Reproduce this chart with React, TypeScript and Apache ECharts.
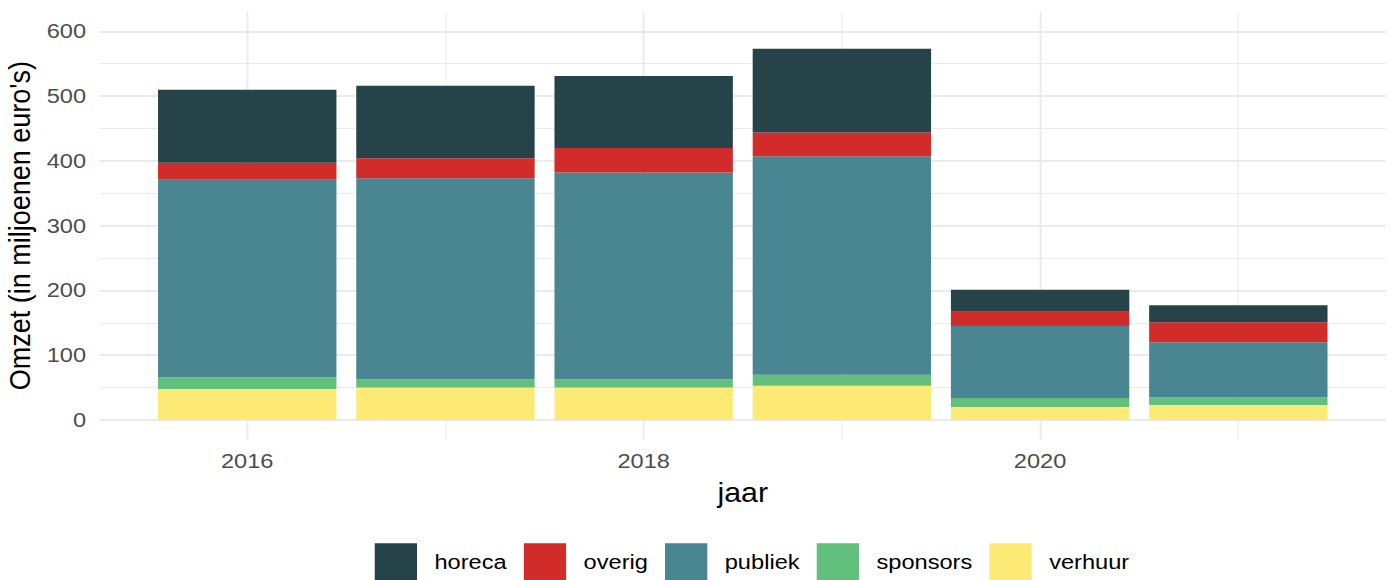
import React, { useEffect, useRef } from "react";
import * as echarts from "echarts";

// ---- data ----
const years = [2016, 2017, 2018, 2019, 2020, 2021];
const verhuur = [48, 50, 50, 53, 20, 23];
const sponsors = [18, 13, 13, 17, 14, 12];
const publiek = [305, 310, 319, 337, 111, 85];
const overig = [26, 31, 38, 37, 22, 31];
const horeca = [113, 112, 111, 129, 34, 26];
const legendOrder = ["horeca", "overig", "publiek", "sponsors", "verhuur"];

// ---- layout / style ----
const SX = 1.125; // the reference is horizontally stretched
const W = 1236;
const H = 580;
const GRID = { left: 88.5, right: 4, top: 11.9, bottom: 140.6 };
const XMIN = 2015.255;
const XMAX = 2021.745;
const YMIN = -30;
const YMAX = 630;
const FONT = "'Liberation Sans', Arial, sans-serif";
const GRIDCOL = "#EBEBEB";
const COLORS: Record<string, string> = {
  horeca: "#27434A",
  overig: "#D12C29",
  publiek: "#4A8592",
  sponsors: "#63BF7E",
  verhuur: "#FCEA74",
};

export default function App() {
  const ref = useRef<HTMLDivElement>(null);
  useEffect(() => {
    document.body.style.margin = "0";
    document.body.style.overflow = "hidden";
    const chart = echarts.init(ref.current!, null, { renderer: "svg" });
    const gridW = W - GRID.left - GRID.right;
    const pxPerYear = gridW / (XMAX - XMIN);
    const barGrid = {
      left: GRID.left + (years[0] - 0.5 - XMIN) * pxPerYear,
      right: GRID.right + (XMAX - (years[years.length - 1] + 0.5)) * pxPerYear,
      top: GRID.top,
      bottom: GRID.bottom,
      containLabel: false,
      outerBoundsMode: "none",
    };
    const stackSeries: [string, number[]][] = [
      ["verhuur", verhuur],
      ["sponsors", sponsors],
      ["publiek", publiek],
      ["overig", overig],
      ["horeca", horeca],
    ];
    const series = stackSeries.map(([name, vals]) => ({
      name,
      type: "bar",
      stack: "total",
      xAxisIndex: 1,
      yAxisIndex: 1,
      barWidth: "90%",
      itemStyle: { color: COLORS[name] },
      data: vals,
    }));
    chart.setOption({
      animation: false,
      grid: [
        { ...GRID, containLabel: false, outerBoundsMode: "none" },
        barGrid,
      ],
      legend: {
        data: legendOrder,
        left: 333.1,
        top: 543.3,
        padding: 0,
        orient: "horizontal",
        icon: "rect",
        itemWidth: 37.6,
        itemHeight: 37.8,
        itemGap: 15.2,
        selectedMode: false,
        textStyle: {
          fontFamily: FONT,
          fontSize: 21,
          color: "#000",
          padding: [4, 0, 0, 10.5],
        },
      },
      xAxis: [
        {
          type: "value",
          gridIndex: 0,
          min: XMIN,
          max: XMAX,
          splitNumber: 3,
          axisLine: { show: false },
          axisTick: { show: false },
          axisLabel: {
            showMinLabel: false,
            showMaxLabel: false,
            formatter: (v: number) => String(v),
            fontFamily: FONT,
            fontSize: 21,
            color: "#4D4D4D",
            margin: 11,
          },
          splitLine: {
            show: true,
            showMinLine: false,
            showMaxLine: false,
            lineStyle: { color: GRIDCOL, width: 1.8 },
          },
          minorTick: { show: false, splitNumber: 2 },
          minorSplitLine: { show: true, lineStyle: { color: GRIDCOL, width: 0.9 } },
          name: "jaar",
          nameLocation: "middle",
          nameGap: 40,
          nameTextStyle: { fontFamily: FONT, fontSize: 27, color: "#000" },
        },
        {
          type: "category",
          gridIndex: 1,
          data: years.map(String),
          show: false,
        },
      ],
      yAxis: [
        {
          type: "value",
          gridIndex: 0,
          min: YMIN,
          max: YMAX,
          splitNumber: 6,
          axisLine: { show: false },
          axisTick: { show: false },
          axisLabel: {
            showMinLabel: false,
            showMaxLabel: false,
            formatter: (v: number) => String(v),
            fontFamily: FONT,
            fontSize: 21,
            color: "#4D4D4D",
            margin: 12,
          },
          splitLine: {
            show: true,
            showMinLine: false,
            showMaxLine: false,
            lineStyle: { color: GRIDCOL, width: 2 },
          },
          minorTick: { show: false, splitNumber: 2 },
          minorSplitLine: { show: true, lineStyle: { color: GRIDCOL, width: 1.1 } },
          name: "Omzet (in miljoenen euro's)",
          nameLocation: "middle",
          nameRotate: 90,
          nameGap: 53,
          nameTextStyle: { fontFamily: FONT, fontSize: 27, color: "#000" },
        },
        {
          type: "value",
          gridIndex: 1,
          min: YMIN,
          max: YMAX,
          show: false,
          splitLine: { show: false },
        },
      ],
      series,
    });
    return () => chart.dispose();
  }, []);
  return (
    <div
      ref={ref}
      style={{
        width: W,
        height: H,
        transform: `scaleX(${SX})`,
        transformOrigin: "0 0",
      }}
    />
  );
}
